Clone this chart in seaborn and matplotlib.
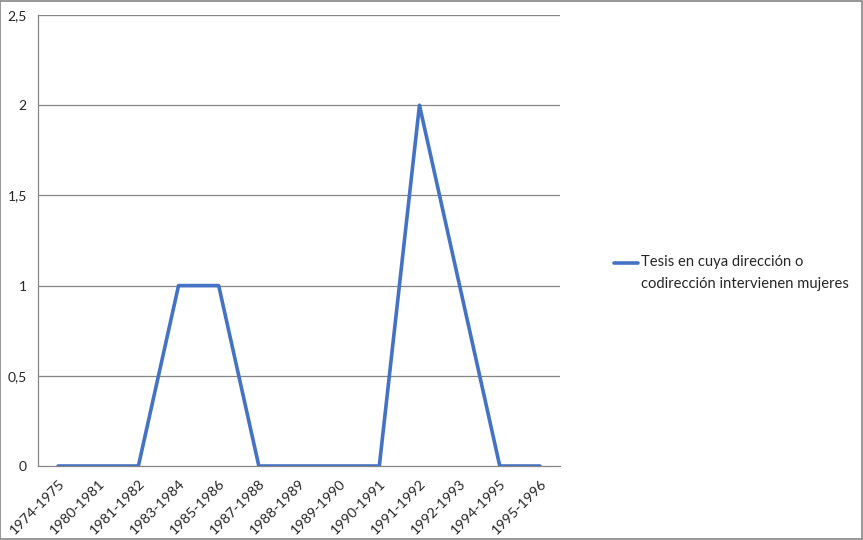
import pandas as pd
import numpy as np
import matplotlib.pyplot as plt
import seaborn as sns
from matplotlib.patches import Rectangle

periodos = ['1974-1975', '1980-1981', '1981-1982', '1983-1984', '1985-1986',
            '1987-1988', '1988-1989', '1989-1990', '1990-1991', '1991-1992',
            '1992-1993', '1994-1995', '1995-1996']
tesis = [0, 0, 0, 1, 1, 0, 0, 0, 0, 2, 1, 0, 0]
serie = 'Tesis en cuya dirección o\ncodirección intervienen mujeres'

y_ticks = [0, 0.5, 1, 1.5, 2, 2.5]
y_labels = ['0', '0,5', '1', '1,5', '2', '2,5']

df = pd.DataFrame({'idx': np.arange(len(periodos)), 'tesis': tesis, 'serie': serie})

sns.set_style('white')
plt.rcParams['font.family'] = ['Lato', 'DejaVu Sans']

fig = plt.figure(figsize=(8.63, 5.4), dpi=100)
ax = fig.add_axes([38 / 863, 1 - 466 / 540, (560 - 38) / 863, (466 - 15) / 540])

sns.lineplot(data=df, x='idx', y='tesis', hue='serie', palette=['#4472C4'],
             linewidth=2.6, ax=ax, legend=False)

grid_c = '#868686'
ax.set_xlim(-0.5, len(periodos) - 0.5)
ax.set_ylim(0, 2.5)
ax.set_yticks(y_ticks)
ax.set_yticklabels(y_labels, fontsize=10)
for y in y_ticks[1:]:
    ax.axhline(y, color=grid_c, linewidth=0.9, zorder=0)

ax.set_xticks(np.arange(len(periodos)))
ax.set_xticklabels(periodos, rotation=45, ha='right', rotation_mode='anchor', fontsize=10.3)
ax.set_xticks(np.arange(len(periodos) + 1) - 0.5, minor=True)
ax.tick_params(axis='x', which='major', length=0, pad=8)
ax.tick_params(axis='x', which='minor', length=5, color=grid_c, width=0.9)
ax.tick_params(axis='y', length=5, color=grid_c, width=0.9, pad=3)
ax.set_xlabel('')
ax.set_ylabel('')

for s in ['top', 'right']:
    ax.spines[s].set_visible(False)
for s in ['left', 'bottom']:
    ax.spines[s].set_color(grid_c)
    ax.spines[s].set_linewidth(0.9)

handle = plt.Line2D([], [], color='#4472C4', linewidth=2.6)
leg = fig.legend([handle], [serie], loc='center left', bbox_to_anchor=(601 / 863, 1 - 273 / 540),
                 frameon=False, fontsize=10.6, handlelength=1.6, handletextpad=0.2)
for t in leg.get_texts():
    t.set_linespacing(1.75)
# lift the legend line up to the first text line, as in the original
for h in leg.legend_handles:
    h.set_ydata(np.asarray(h.get_ydata()) + 7.5)

fig.patches.append(Rectangle((0.0005, 0.001), 0.998, 0.997, transform=fig.transFigure,
                             fill=False, edgecolor=grid_c, linewidth=1.2))

fig.savefig('out.png', dpi=100)
plt.close()
